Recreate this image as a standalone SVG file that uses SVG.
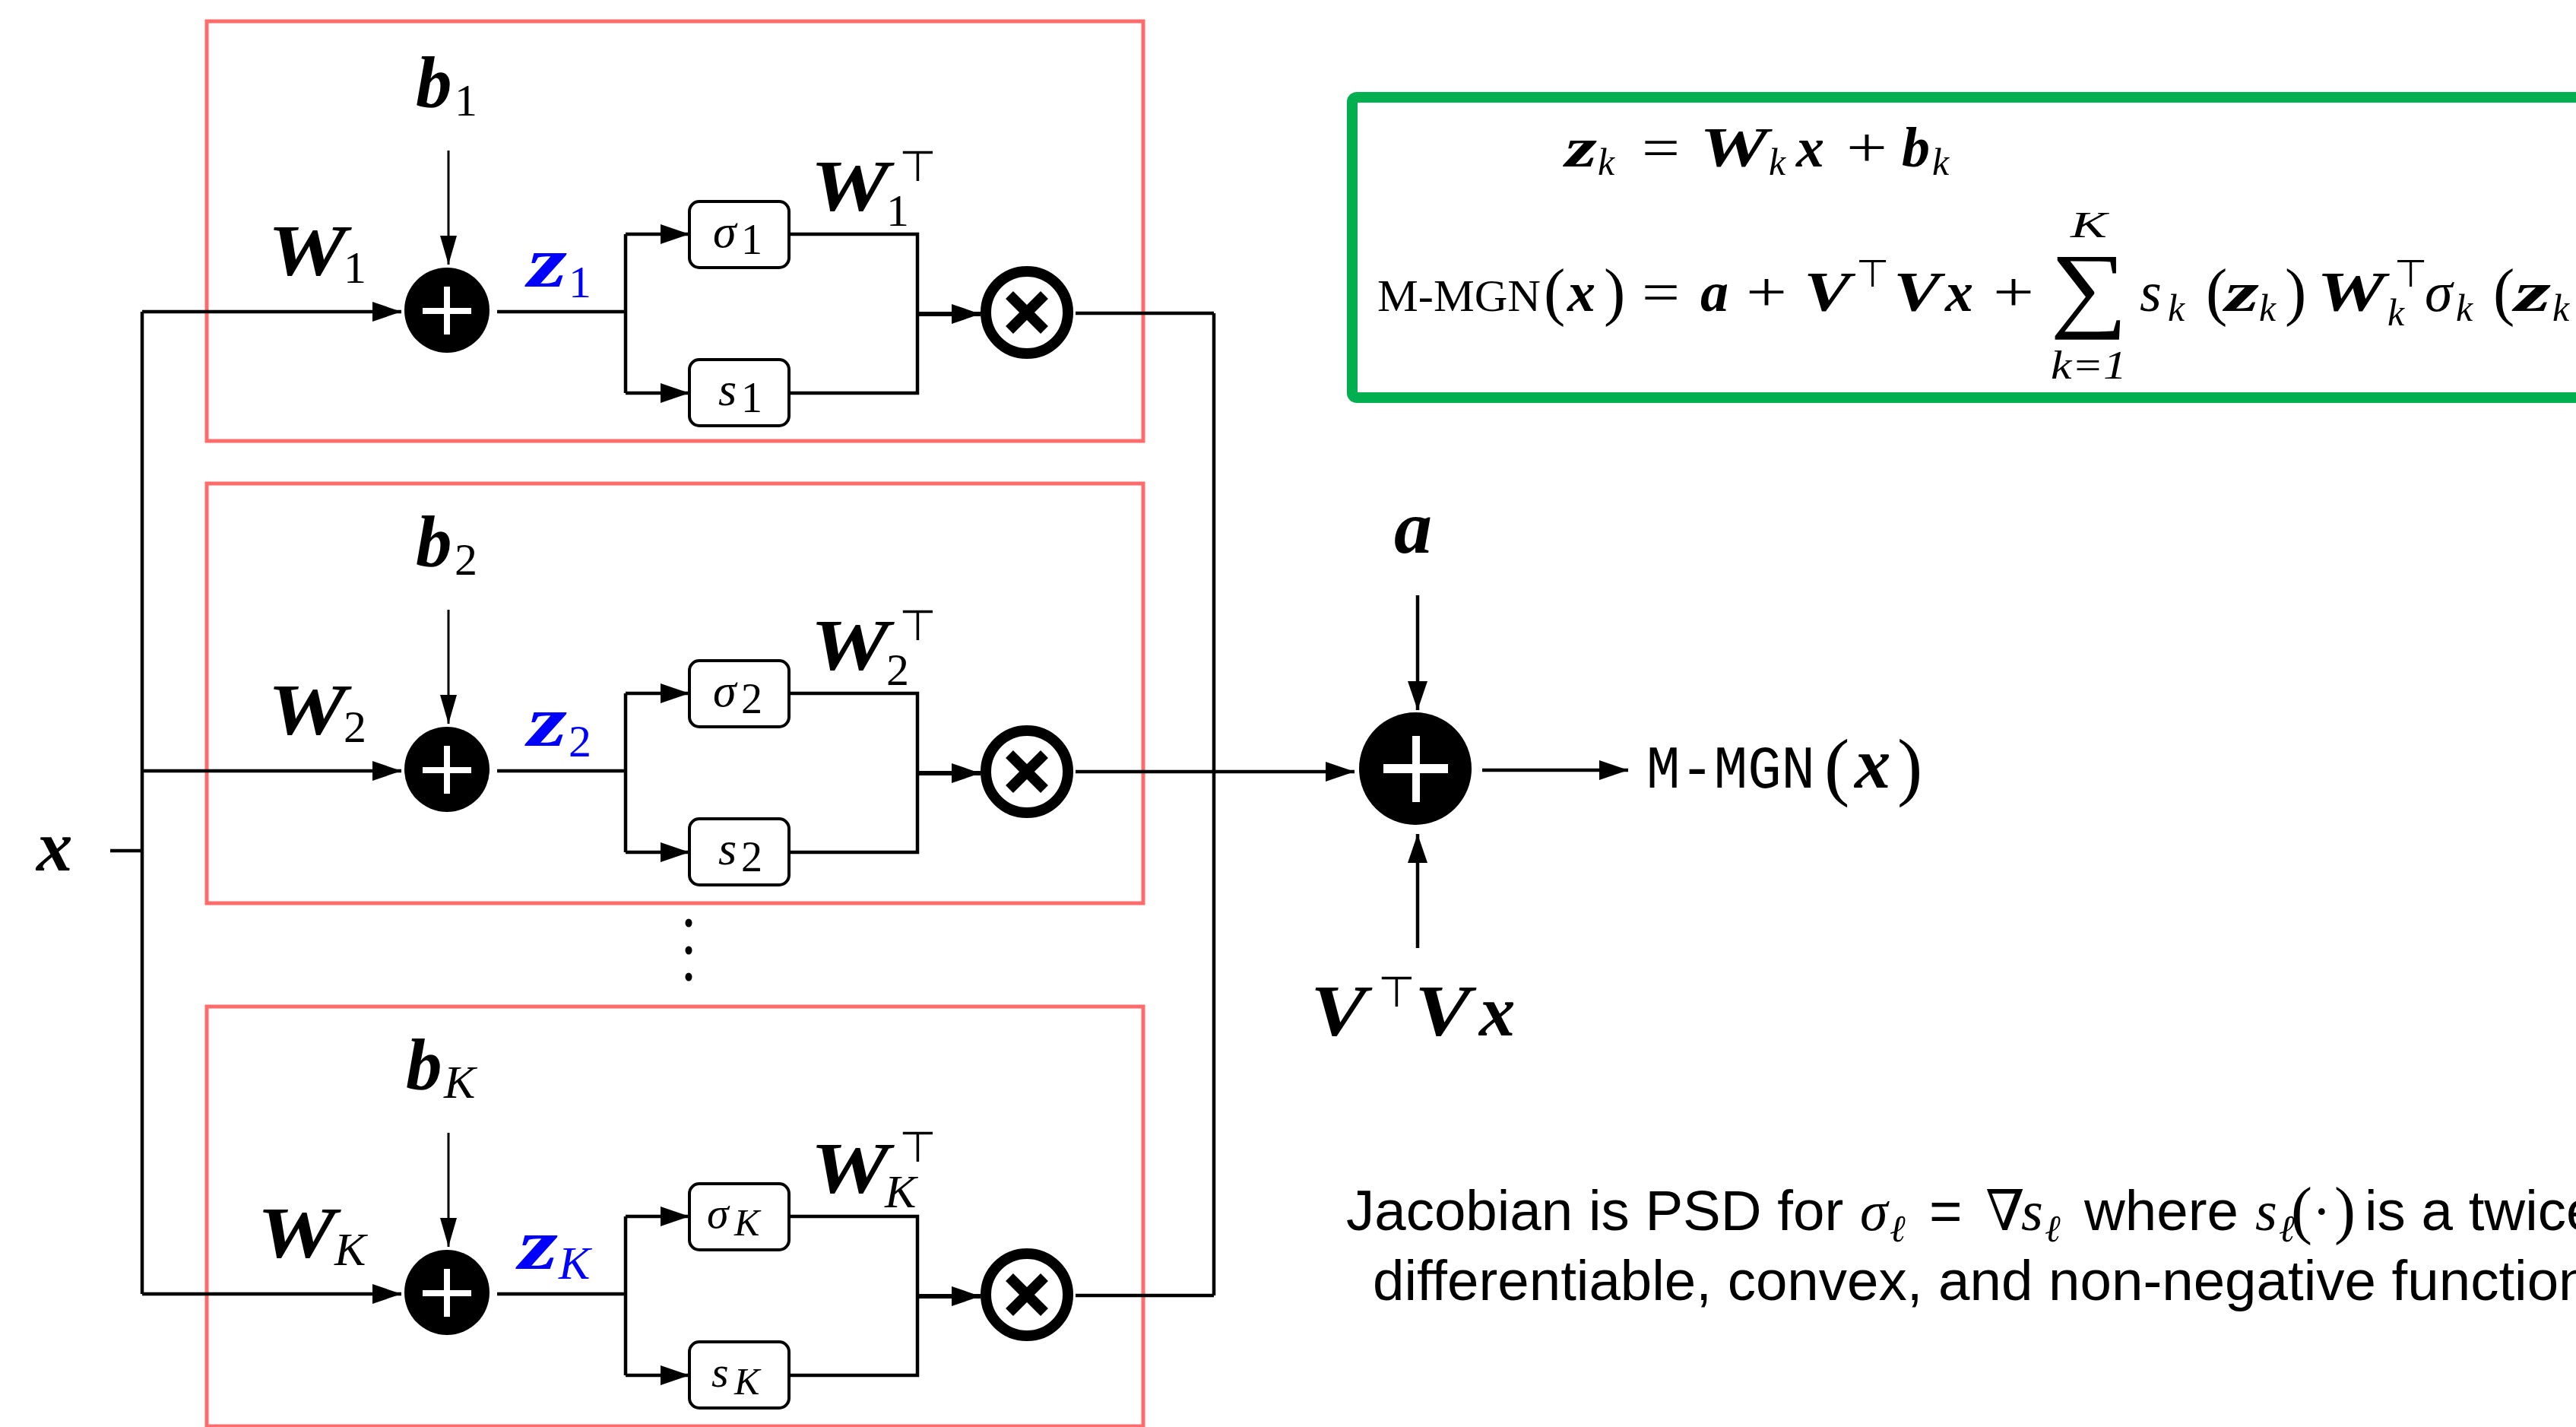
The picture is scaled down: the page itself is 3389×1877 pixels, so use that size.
<svg xmlns="http://www.w3.org/2000/svg" width="3389" height="1877" viewBox="0 0 3389 1877">
<style>
.red{fill:none;stroke:#FF6B6B;stroke-width:5}
.ln{fill:none;stroke:#000;stroke-width:4.5}
.thin{fill:none;stroke:#000;stroke-width:3}
.thick{fill:none;stroke:#000;stroke-width:6}
.box{fill:#fff;stroke:#000;stroke-width:4}
.green{fill:none;stroke:#00B050;stroke-width:14}
.otimes{fill:#fff;stroke:#000;stroke-width:14}
.xm{stroke:#000;stroke-width:14;stroke-linecap:butt}
.mb{font-family:"Liberation Serif","DejaVu Serif",serif;font-style:italic;font-weight:bold}
.mi{font-family:"Liberation Serif","DejaVu Serif",serif;font-style:italic}
.mr{font-family:"Liberation Serif","DejaVu Serif",serif}
.sym{font-family:"DejaVu Sans",sans-serif}
.tt{font-family:"Liberation Mono","DejaVu Sans Mono",monospace}
.sf{font-family:"Liberation Sans",Arial,sans-serif;font-size:74.5px}
.L{font-size:95px}
.S{font-size:60px}
.blue{fill:#0000FF}
</style>
<defs>
<marker id="ah" markerUnits="userSpaceOnUse" viewBox="0 0 38 26" refX="38" refY="13" markerWidth="38" markerHeight="26" orient="auto"><path d="M0,0 L38,13 L0,26 Z" fill="#000"/></marker>
<marker id="an" markerUnits="userSpaceOnUse" viewBox="0 0 38 22" refX="38" refY="11" markerWidth="38" markerHeight="22" orient="auto"><path d="M0,0 L38,11 L0,22 Z" fill="#000"/></marker>
<g id="plusnode"><circle cx="588" cy="408" r="56" fill="#000"/><rect x="584" y="377" width="8" height="63" fill="#fff"/><rect x="556" y="405" width="64" height="8" fill="#fff"/></g>
<g id="prodnode"><circle class="otimes" cx="1351" cy="411" r="54"/><line class="xm" x1="1328" y1="388" x2="1374" y2="434"/><line class="xm" x1="1374" y1="388" x2="1328" y2="434"/></g>
</defs>

<!-- red block frames -->
<g id="frames">
<rect id="frame1" class="red" x="272" y="28" width="1232" height="552"/>
<rect id="frame2" class="red" x="272" y="636" width="1232" height="552"/>
<rect id="frameK" class="red" x="272" y="1324" width="1232" height="552"/>
</g>

<!-- connectors -->
<g id="connectors">
<path class="ln" d="M145,1119 H187"/>
<path class="ln" d="M187,410 V1702"/>
<path class="ln" d="M1597,412 V1704"/>
<g id="conn-row1">
<path class="ln" d="M187,410 H528" marker-end="url(#ah)"/>
<path class="thin" d="M590,198 V348" marker-end="url(#an)"/>
<path class="ln" d="M654,410 H823"/>
<path class="ln" d="M823,308 V517"/>
<path class="ln" d="M823,308 H907" marker-end="url(#ah)"/>
<path class="ln" d="M823,517 H907" marker-end="url(#ah)"/>
<path class="ln" d="M1038,308 H1207 V517 H1038"/>
<path class="thick" d="M1207,413 H1290" marker-end="url(#ah)"/>
<path class="ln" d="M1415,412 H1597"/>
</g>
<g id="conn-row2" transform="translate(0,604)">
<path class="ln" d="M187,410 H528" marker-end="url(#ah)"/>
<path class="thin" d="M590,198 V348" marker-end="url(#an)"/>
<path class="ln" d="M654,410 H823"/>
<path class="ln" d="M823,308 V517"/>
<path class="ln" d="M823,308 H907" marker-end="url(#ah)"/>
<path class="ln" d="M823,517 H907" marker-end="url(#ah)"/>
<path class="ln" d="M1038,308 H1207 V517 H1038"/>
<path class="thick" d="M1207,413 H1290" marker-end="url(#ah)"/>
<path class="ln" d="M1415,411 H1782" marker-end="url(#ah)"/>
</g>
<g id="conn-rowK" transform="translate(0,1292)">
<path class="ln" d="M187,410 H528" marker-end="url(#ah)"/>
<path class="thin" d="M590,198 V348" marker-end="url(#an)"/>
<path class="ln" d="M654,410 H823"/>
<path class="ln" d="M823,308 V517"/>
<path class="ln" d="M823,308 H907" marker-end="url(#ah)"/>
<path class="ln" d="M823,517 H907" marker-end="url(#ah)"/>
<path class="ln" d="M1038,308 H1207 V517 H1038"/>
<path class="thick" d="M1207,413 H1290" marker-end="url(#ah)"/>
<path class="ln" d="M1415,412 H1597"/>
</g>
<path class="ln" d="M1865,783 V934" marker-end="url(#ah)"/>
<path class="ln" d="M1865,1247 V1097" marker-end="url(#ah)"/>
<path class="ln" d="M1950,1013 H2142" marker-end="url(#ah)"/>
</g>

<!-- input x -->
<g id="input-x"><text class="mb L" x="48" y="1145">x</text></g>

<!-- row 1 -->
<g id="row1">
<g id="b1"><text class="mb L" x="547" y="140">b</text><text class="mr S" x="598" y="152">1</text></g>
<g id="W1"><text class="mb L" x="352" y="362" textLength="104" lengthAdjust="spacingAndGlyphs">W</text><text class="mr S" x="452" y="372">1</text></g>
<g id="add1"><use href="#plusnode"/></g>
<g id="z1" class="blue"><text class="mb L" x="694" y="377" textLength="52" lengthAdjust="spacingAndGlyphs">z</text><text class="mr S" x="748" y="391">1</text></g>
<g id="sigma1"><rect class="box" x="907" y="265" width="131" height="87" rx="13"/><text class="mi" font-size="62" x="938" y="325">σ</text><text class="mr" font-size="56" x="975" y="334">1</text></g>
<g id="s1"><rect class="box" x="907" y="473" width="131" height="87" rx="13"/><text class="mi" font-size="62" x="945" y="533">s</text><text class="mr" font-size="56" x="975" y="542">1</text></g>
<g id="W1T"><text class="mb L" x="1066" y="277" textLength="104" lengthAdjust="spacingAndGlyphs">W</text><text class="mr S" x="1166" y="297">1</text><text class="sym" font-size="56" x="1183" y="238">⊤</text></g>
<g id="mul1"><use href="#prodnode"/></g>
</g>

<!-- row 2 -->
<g id="row2" transform="translate(0,604)">
<g id="b2"><text class="mb L" x="547" y="140">b</text><text class="mr S" x="598" y="152">2</text></g>
<g id="W2"><text class="mb L" x="352" y="362" textLength="104" lengthAdjust="spacingAndGlyphs">W</text><text class="mr S" x="452" y="372">2</text></g>
<g id="add2"><use href="#plusnode"/></g>
<g id="z2" class="blue"><text class="mb L" x="694" y="377" textLength="52" lengthAdjust="spacingAndGlyphs">z</text><text class="mr S" x="748" y="391">2</text></g>
<g id="sigma2"><rect class="box" x="907" y="265" width="131" height="87" rx="13"/><text class="mi" font-size="62" x="938" y="325">σ</text><text class="mr" font-size="56" x="975" y="334">2</text></g>
<g id="s2"><rect class="box" x="907" y="473" width="131" height="87" rx="13"/><text class="mi" font-size="62" x="945" y="533">s</text><text class="mr" font-size="56" x="975" y="542">2</text></g>
<g id="W2T"><text class="mb L" x="1066" y="277" textLength="104" lengthAdjust="spacingAndGlyphs">W</text><text class="mr S" x="1166" y="297">2</text><text class="sym" font-size="56" x="1183" y="238">⊤</text></g>
<g id="mul2"><use href="#prodnode"/></g>
</g>

<!-- dots -->
<g id="vdots"><ellipse cx="906" cy="1214" rx="4.5" ry="5.5"/><ellipse cx="906" cy="1250" rx="4.5" ry="5.5"/><ellipse cx="906" cy="1285" rx="4.5" ry="5.5"/></g>

<!-- row K -->
<g id="rowK" transform="translate(0,1292)">
<g id="bK"><text class="mb L" x="534" y="140">b</text><text class="mi" font-size="62" x="584" y="152">K</text></g>
<g id="WK"><text class="mb L" x="338" y="362" textLength="104" lengthAdjust="spacingAndGlyphs">W</text><text class="mi" font-size="62" x="440" y="372">K</text></g>
<g id="addK"><use href="#plusnode"/></g>
<g id="zK" class="blue"><text class="mb L" x="682" y="377" textLength="52" lengthAdjust="spacingAndGlyphs">z</text><text class="mi" font-size="62" x="735" y="390">K</text></g>
<g id="sigmaK"><rect class="box" x="907" y="265" width="131" height="87" rx="13"/><text class="mi" font-size="58" x="930" y="323">σ</text><text class="mi" font-size="50" x="966" y="333">K</text></g>
<g id="sK"><rect class="box" x="907" y="473" width="131" height="87" rx="13"/><text class="mi" font-size="58" x="936" y="532">s</text><text class="mi" font-size="50" x="966" y="542">K</text></g>
<g id="WKT"><text class="mb L" x="1066" y="277" textLength="104" lengthAdjust="spacingAndGlyphs">W</text><text class="mi" font-size="62" x="1164" y="296">K</text><text class="sym" font-size="56" x="1183" y="236">⊤</text></g>
<g id="mulK"><use href="#prodnode"/></g>
</g>

<!-- final sum -->
<g id="final-add"><circle cx="1862" cy="1011" r="74" fill="#000"/><rect x="1858" y="968" width="10" height="87" fill="#fff"/><rect x="1820" y="1005" width="85" height="12" fill="#fff"/></g>
<g id="label-a"><text class="mb" font-size="100" x="1834" y="727">a</text></g>
<g id="label-VTVx"><text class="mb L" x="1724" y="1362" textLength="74" lengthAdjust="spacingAndGlyphs">V</text><text class="sym" font-size="56" x="1813" y="1324">⊤</text><text class="mb L" x="1861" y="1362" textLength="74" lengthAdjust="spacingAndGlyphs">V</text><text class="mb L" x="1946" y="1362">x</text></g>
<g id="output"><text class="tt" font-size="80" x="2166" y="1036" textLength="222" lengthAdjust="spacingAndGlyphs">M-MGN</text><text class="mr" font-size="100" x="2400" y="1041">(</text><text class="mb L" x="2440" y="1036">x</text><text class="mr" font-size="100" x="2496" y="1041">)</text></g>

<!-- equation box -->
<g id="equations">
<rect class="green" x="1779" y="128" width="1700" height="395" rx="6"/>
<g id="eq1">
<text class="mb" font-size="74" x="2059" y="219" textLength="42" lengthAdjust="spacingAndGlyphs">z</text><text class="mi" font-size="50" x="2102" y="230">k</text>
<text class="mr" font-size="74" x="2160" y="219" textLength="50" lengthAdjust="spacingAndGlyphs">=</text>
<text class="mb" font-size="74" x="2236" y="219" textLength="90" lengthAdjust="spacingAndGlyphs">W</text><text class="mi" font-size="50" x="2327" y="230">k</text>
<text class="mb" font-size="74" x="2363" y="219">x</text>
<text class="mr" font-size="74" x="2429" y="219" textLength="54" lengthAdjust="spacingAndGlyphs">+</text>
<text class="mb" font-size="74" x="2502" y="219">b</text><text class="mi" font-size="50" x="2542" y="230">k</text>
</g>
<g id="eq2">
<text class="mr" font-size="60" x="1812" y="409" textLength="215" lengthAdjust="spacingAndGlyphs">M-MGN</text>
<text class="mr" font-size="85" x="2031" y="412">(</text><text class="mb" font-size="74" x="2062" y="409">x</text><text class="mr" font-size="85" x="2110" y="412">)</text>
<text class="mr" font-size="74" x="2160" y="409" textLength="50" lengthAdjust="spacingAndGlyphs">=</text>
<text class="mb" font-size="74" x="2237" y="409">a</text>
<text class="mr" font-size="74" x="2297" y="409" textLength="54" lengthAdjust="spacingAndGlyphs">+</text>
<text class="mb" font-size="74" x="2373" y="409" textLength="62" lengthAdjust="spacingAndGlyphs">V</text><text class="sym" font-size="50" x="2442" y="377">⊤</text><text class="mb" font-size="74" x="2491" y="409" textLength="62" lengthAdjust="spacingAndGlyphs">V</text><text class="mb" font-size="74" x="2559" y="409">x</text>
<text class="mr" font-size="74" x="2622" y="409" textLength="54" lengthAdjust="spacingAndGlyphs">+</text>
<text class="mi" font-size="48" x="2724" y="312" textLength="48" lengthAdjust="spacingAndGlyphs">K</text>
<text class="mr" font-size="125" x="2697" y="420" textLength="102" lengthAdjust="spacingAndGlyphs">∑</text>
<text class="mi" font-size="52" x="2698" y="498" textLength="100" lengthAdjust="spacingAndGlyphs">k=1</text>
<text class="mi" font-size="74" x="2815" y="409">s</text><text class="mi" font-size="50" x="2852" y="422">k</text>
<text class="mr" font-size="85" x="2902" y="412">(</text><text class="mb" font-size="74" x="2927" y="409" textLength="45" lengthAdjust="spacingAndGlyphs">z</text><text class="mi" font-size="50" x="2972" y="422">k</text><text class="mr" font-size="85" x="3006" y="412">)</text>
<text class="mb" font-size="74" x="3048" y="409" textLength="90" lengthAdjust="spacingAndGlyphs">W</text><text class="sym" font-size="50" x="3150" y="377">⊤</text><text class="mi" font-size="50" x="3141" y="428">k</text>
<text class="mi" font-size="74" x="3190" y="409">σ</text><text class="mi" font-size="50" x="3231" y="422">k</text>
<text class="mr" font-size="85" x="3280" y="412">(</text><text class="mb" font-size="74" x="3308" y="409" textLength="48" lengthAdjust="spacingAndGlyphs">z</text><text class="mi" font-size="50" x="3358" y="422">k</text>
</g>
</g>

<!-- note -->
<g id="note">
<text class="sf" x="1771" y="1618">Jacobian is PSD for</text>
<text class="mi" font-size="74" x="2447" y="1618">σ</text><text class="mi" font-size="50" x="2486" y="1633">ℓ</text>
<text class="sf" x="2538" y="1618">=</text>
<text class="mr" font-size="74" x="2612" y="1618">∇</text><text class="mi" font-size="74" x="2659" y="1618">s</text><text class="mi" font-size="50" x="2690" y="1633">ℓ</text>
<text class="sf" x="2742" y="1618">where</text>
<text class="mi" font-size="74" x="2967" y="1618">s</text><text class="mi" font-size="50" x="2998" y="1633">ℓ</text>
<text class="mr" font-size="84" x="3014" y="1620">(</text><text class="mr" font-size="74" x="3042" y="1618">·</text><text class="mr" font-size="84" x="3071" y="1620">)</text>
<text class="sf" x="3111" y="1618">is a twice</text>
<text class="sf" x="1806" y="1710">differentiable, convex, and non-negative function</text>
</g>
</svg>
